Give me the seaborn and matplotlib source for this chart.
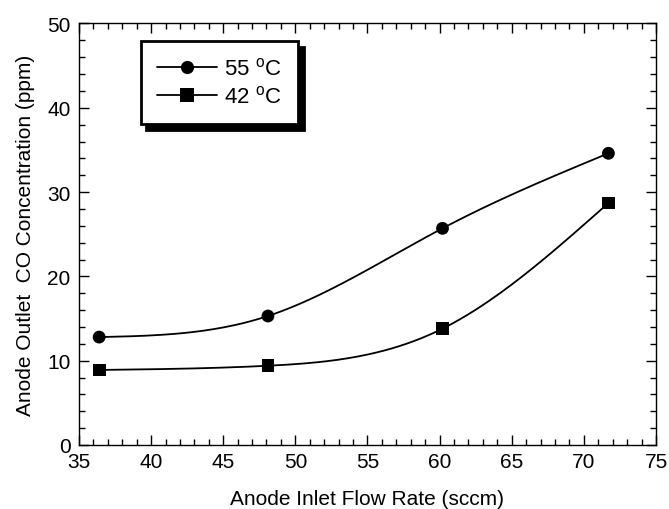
import numpy as np
import pandas as pd
import seaborn as sns
import matplotlib
matplotlib.use("Agg")
from matplotlib import pyplot as plt
from matplotlib.lines import Line2D
from matplotlib.ticker import MultipleLocator

flow_rate = [36.4, 48.1, 60.2, 71.7]
co_55 = [12.8, 15.3, 25.7, 34.6]
co_42 = [8.9, 9.4, 13.8, 28.7]
series = ["55 $^{\\rm o}$C", "42 $^{\\rm o}$C"]
markers = ["o", "s"]


def natural_spline(x, y, n=200):
    # plain natural cubic spline, used only to draw the smooth connecting line
    x = np.asarray(x, float)
    y = np.asarray(y, float)
    k = len(x)
    h = np.diff(x)
    A = np.zeros((k, k))
    b = np.zeros(k)
    A[0, 0] = A[-1, -1] = 1
    for i in range(1, k - 1):
        A[i, i - 1] = h[i - 1]
        A[i, i] = 2 * (h[i - 1] + h[i])
        A[i, i + 1] = h[i]
        b[i] = 6 * ((y[i + 1] - y[i]) / h[i] - (y[i] - y[i - 1]) / h[i - 1])
    m = np.linalg.solve(A, b)
    xs = np.linspace(x[0], x[-1], n)
    idx = np.clip(np.searchsorted(x, xs) - 1, 0, k - 2)
    x0, x1 = x[idx], x[idx + 1]
    hh = x1 - x0
    t0, t1 = x1 - xs, xs - x0
    ys = (m[idx] * t0 ** 3 + m[idx + 1] * t1 ** 3) / (6 * hh) \
        + (y[idx] / hh - m[idx] * hh / 6) * t0 \
        + (y[idx + 1] / hh - m[idx + 1] * hh / 6) * t1
    return xs, ys


sns.set_theme(style="ticks")
plt.rcParams["font.family"] = ["Liberation Sans", "DejaVu Sans"]
plt.rcParams["mathtext.fontset"] = "custom"
plt.rcParams["mathtext.rm"] = "Liberation Sans"
for key in ["text.color", "axes.labelcolor", "xtick.color", "ytick.color", "axes.edgecolor"]:
    plt.rcParams[key] = "black"

data = pd.DataFrame({
    "flow": flow_rate * 2,
    "co": co_55 + co_42,
    "temp": [series[0]] * 4 + [series[1]] * 4,
})

fig = plt.figure(figsize=(6.69, 5.10), dpi=100)
ax = fig.add_axes([0.118, 0.1255, 0.8626, 0.8265])

for name, yv in zip(series, [co_55, co_42]):
    xs, ys = natural_spline(flow_rate, yv)
    ax.plot(xs, ys, color="black", lw=1.3, zorder=2)

sns.scatterplot(data=data, x="flow", y="co", style="temp", markers=dict(zip(series, markers)),
                color="black", s=85, edgecolor="black", linewidth=0, legend=False, ax=ax, zorder=3)

ax.set_xlim(35, 75)
ax.set_ylim(0, 50)
ax.xaxis.set_major_locator(MultipleLocator(5))
ax.xaxis.set_minor_locator(MultipleLocator(1))
ax.yaxis.set_major_locator(MultipleLocator(10))
ax.yaxis.set_minor_locator(MultipleLocator(2))
ax.tick_params(which="both", direction="in", top=True, right=True, width=1, color="black",
               labelcolor="black", labelsize=15)
ax.tick_params(axis="x", which="major", pad=5)
ax.tick_params(axis="y", which="major", pad=6)
ax.tick_params(which="major", length=7)
ax.tick_params(which="minor", length=4)
for sp in ax.spines.values():
    sp.set_color("black")
    sp.set_linewidth(1)

ax.set_xlabel("Anode Inlet Flow Rate (sccm)", fontsize=15, labelpad=13, color="black")
ax.set_ylabel("Anode Outlet  CO Concentration (ppm)", fontsize=15, labelpad=9, color="black")

handles = [Line2D([], [], color="black", lw=1.3, marker=m, ms=9.5, markeredgewidth=0)
           for m in markers]
leg = ax.legend(handles, series, loc="upper left", bbox_to_anchor=(0.107, 0.958),
                borderaxespad=0, fontsize=16, handlelength=2.7, handletextpad=0.3,
                labelspacing=0.25, borderpad=0.75, fancybox=False, frameon=True,
                labelcolor="black",
                shadow={"color": "black", "alpha": 1, "ox": 4, "oy": -4})
leg.get_frame().set_edgecolor("black")
leg.get_frame().set_linewidth(2)

fig.savefig("out.png", dpi=100)
